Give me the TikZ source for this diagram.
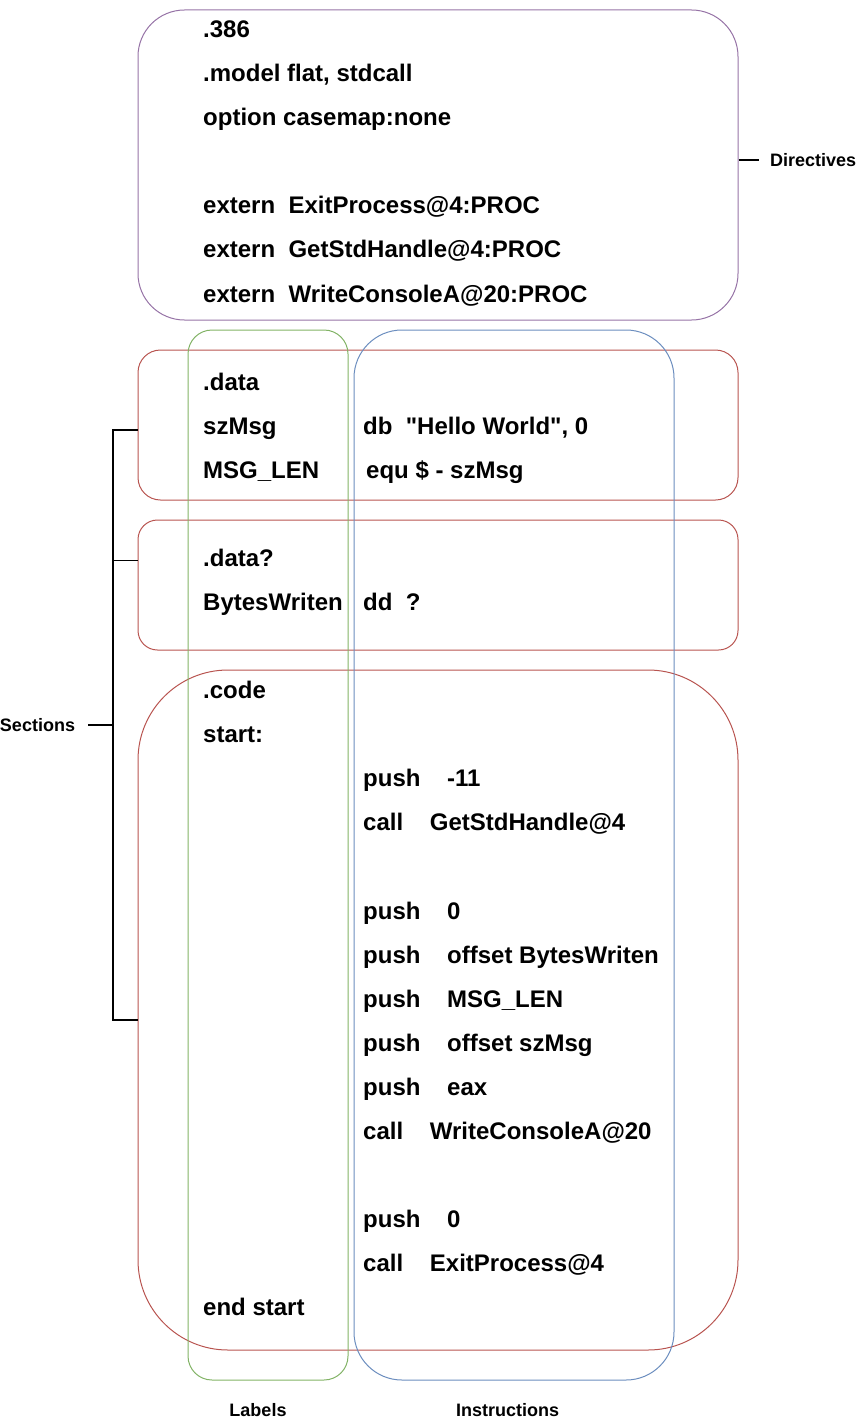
\documentclass[tikz,border=0pt]{standalone}
\usepackage{fontspec}
\setmainfont{Liberation Sans}
\usepackage{tikz}

\definecolor{dirpurple}{HTML}{9673A6}
\definecolor{secred}{HTML}{B85450}
\definecolor{lblgreen}{HTML}{82B366}
\definecolor{insblue}{HTML}{6C8EBF}

\begin{document}
\begin{tikzpicture}[x=1pt,y=-1pt,
        box/.style={draw=#1, line width=1pt, minimum width=600pt},
        code/.style={anchor=base west, inner sep=0pt, font=\fontsize{24}{28}\selectfont\bfseries},
        tag/.style={inner sep=0pt, font=\fontsize{18}{21}\selectfont\bfseries},
        bracket/.style={line width=2pt}]
    \useasboundingbox (0,0) rectangle (857,1421);

    % boxes
    \node[box=dirpurple, minimum height=310pt, rounded corners=46.5pt] (dirbox) at (438,165) {};
    \node[box=secred, minimum height=150pt, rounded corners=22.5pt] (databox) at (438,425) {};
    \node[box=secred, minimum height=130pt, rounded corners=19.5pt] (bssbox) at (438,585) {};
    \node[box=secred, minimum height=680pt, rounded corners=90pt] (codebox) at (438,1010) {};
    \node[box=lblgreen, minimum width=160pt, minimum height=1050pt, rounded corners=24pt] (lblbox) at (268,855) {};
    \node[box=insblue, minimum width=320pt, minimum height=1050pt, rounded corners=48pt] (insbox) at (514,855) {};

    % directives
    \node[code] (dir1) at (203,37.5) {.386};
    \node[code] (dir2) at (203,81.5) {.model flat, stdcall};
    \node[code] (dir3) at (203,125.5) {option casemap:none};
    \node[code] (dir4) at (203,213.5) {extern\ \ ExitProcess@4:PROC};
    \node[code] (dir5) at (203,257.5) {extern\ \ GetStdHandle@4:PROC};
    \node[code] (dir6) at (203,302.5) {extern\ \ WriteConsoleA@20:PROC};

    % .data
    \node[code] (data1) at (203,390.5) {.data};
    \node[code] (data2) at (203,434.5) {szMsg};
    \node[code] (data2i) at (363,434.5) {db\ \ \textquotedbl Hello World\textquotedbl, 0};
    \node[code] (data3) at (203,478.5) {MSG\_LEN};
    \node[code] (data3i) at (366,478.5) {equ \$ - szMsg};

    % .data?
    \node[code] (bss1) at (203,566.5) {.data?};
    \node[code] (bss2) at (203,610.5) {BytesWriten};
    \node[code] (bss2i) at (363,610.5) {dd\ \ ?};

    % .code
    \node[code] (code1) at (203,698.5) {.code};
    \node[code] (code2) at (203,742.5) {start:};
    \node[code] (code3) at (363,786.5) {push\ \ \ \ -11};
    \node[code] (code4) at (363,830.5) {call\ \ \ \ GetStdHandle@4};
    \node[code] (code5) at (363,919.5) {push\ \ \ \ 0};
    \node[code] (code6) at (363,963.5) {push\ \ \ \ offset BytesWriten};
    \node[code] (code7) at (363,1007.5) {push\ \ \ \ MSG\_LEN};
    \node[code] (code8) at (363,1051.5) {push\ \ \ \ offset szMsg};
    \node[code] (code9) at (363,1095.5) {push\ \ \ \ eax};
    \node[code] (code10) at (363,1139.5) {call\ \ \ \ WriteConsoleA@20};
    \node[code] (code11) at (363,1227.5) {push\ \ \ \ 0};
    \node[code] (code12) at (363,1271.5) {call\ \ \ \ ExitProcess@4};
    \node[code] (code13) at (203,1315.5) {end start};

    % tags
    \node[tag, anchor=west] (directives) at (770,160) {Directives};
    \node[tag] (sections) at (37.5,725) {Sections};
    \node[tag, anchor=base] (labels) at (258,1416.5) {Labels};
    \node[tag, anchor=base] (instructions) at (507.5,1416.5) {Instructions};

    \draw[line width=1.5pt] (dirbox.east |- directives.west) -- +(20,0);

    \coordinate (secTop) at (113,430);
    \coordinate (secMid) at (113,560);
    \coordinate (secBot) at (113,1020);
    \draw[bracket] (databox.west |- secTop) -- (secTop) -- (secBot) -- (codebox.west |- secBot);
    \draw[line width=1pt] (secMid) -- (bssbox.west |- secMid);
    \draw[bracket] ([xshift=13pt]sections.east) -- (sections.east -| secTop);
\end{tikzpicture}
\end{document}
